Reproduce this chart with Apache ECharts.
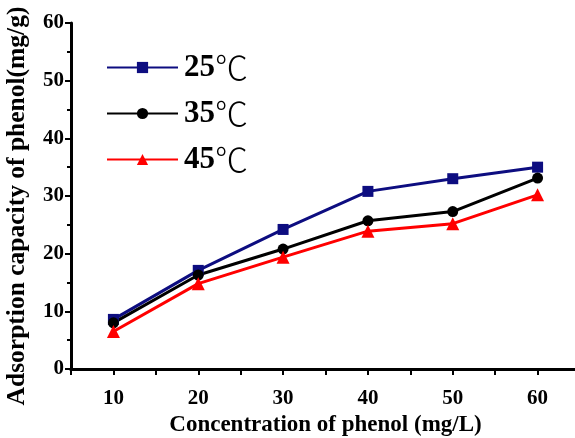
<!DOCTYPE html>
<html><head><meta charset="utf-8">
<script src="https://cdn.jsdelivr.net/npm/echarts@6/dist/echarts.min.js"></script>
<style>html,body{margin:0;padding:0;background:#fff;overflow:hidden}#c{width:575px;height:438px}</style>
</head><body><div id="c"></div>
<script>
const concentrations = [10, 20, 30, 40, 50, 60];
const s25 = [8.6, 17.1, 24.2, 30.8, 33.0, 35.0];
const s35 = [8.0, 16.3, 20.8, 25.7, 27.3, 33.1];
const s45 = [6.5, 14.8, 19.4, 23.9, 25.2, 30.2];
const seriesNames = ['25\u2103', '35\u2103', '45\u2103'];
const xTicks = [10, 20, 30, 40, 50, 60];
const xTitle = 'Concentration of phenol (mg/L)';
const yTitle = 'Adsorption capacity of phenol(mg/g)';

const font = '"Liberation Serif","Times New Roman","Noto Sans CJK SC",serif';
const chart = echarts.init(document.getElementById('c'));
function pairs(v){ return concentrations.map((x,i)=>[x, v[i]]); }
chart.setOption({
  animation: false,
  grid: {left: 71, top: 23, width: 509, height: 346, containLabel: false, outerBoundsMode: 'none'},
  legend: {
    orient: 'vertical', left: 101, top: 46, itemWidth: 71, itemHeight: 14, itemGap: 13,
    formatter: n => '{d|' + n.slice(0, 2) + '}{u|' + n.slice(2) + '}',
    textStyle: {fontFamily: font, fontSize: 31, color: '#000', lineHeight: 30, padding: [0, 0, 0, 1],
      rich: {
        d: {fontFamily: font, fontSize: 31, fontWeight: 'bold', color: '#000', lineHeight: 30},
        u: {fontFamily: '"Noto Sans CJK SC",sans-serif', fontSize: 33, fontWeight: 300, color: '#000', lineHeight: 30}
      }},
    data: seriesNames
  },
  graphic: [{
    type: 'text', x: 17, y: 206, rotation: Math.PI / 2,
    style: {text: yTitle, fontFamily: font, fontSize: 25.5, fontWeight: 'bold', fill: '#000',
      align: 'center', verticalAlign: 'middle'}
  }],
  xAxis: [{
    type: 'value', min: 5, max: 65, interval: 5,
    name: xTitle, nameLocation: 'middle', nameGap: 45,
    nameTextStyle: {fontFamily: font, fontSize: 23, fontWeight: 'bold', color: '#000'},
    axisLine: {show: true, onZero: false, lineStyle: {color: '#000', width: 3}},
    axisTick: {show: true, length: 6, lineStyle: {width: 2, color: '#000'}},
    splitLine: {show: false},
    axisLabel: {margin: 19, fontFamily: font, fontSize: 21, fontWeight: 'bold', color: '#000',
      formatter: v => xTicks.indexOf(v) >= 0 ? String(v) : ''}
  }, {
    type: 'value', position: 'top', min: 5, max: 65,
    axisLine: {show: true, lineStyle: {color: '#000', width: 3}},
    axisTick: {show: false}, axisLabel: {show: false}, splitLine: {show: false}
  }],
  yAxis: {
    type: 'value', min: 0, max: 60, interval: 10,
    axisLine: {show: true, lineStyle: {color: '#000', width: 3}},
    axisTick: {show: true, length: 6, lineStyle: {width: 2, color: '#000'}},
    minorTick: {show: true, splitNumber: 2, length: 4, lineStyle: {width: 2, color: '#000'}},
    splitLine: {show: false},
    axisLabel: {margin: 7, fontFamily: font, fontSize: 21, fontWeight: 'bold', color: '#000'}
  },
  series: [
    {name: seriesNames[0], type: 'line', data: pairs(s25), symbol: 'rect', symbolSize: 11,
     itemStyle: {color: '#0d0d80'}, lineStyle: {color: '#0d0d80', width: 3}},
    {name: seriesNames[1], type: 'line', data: pairs(s35), symbol: 'circle', symbolSize: 11,
     itemStyle: {color: '#000'}, lineStyle: {color: '#000', width: 3}},
    {name: seriesNames[2], type: 'line', data: pairs(s45), symbol: 'triangle', symbolSize: 13,
     itemStyle: {color: '#ff0000'}, lineStyle: {color: '#ff0000', width: 3}}
  ]
});
</script></body></html>
